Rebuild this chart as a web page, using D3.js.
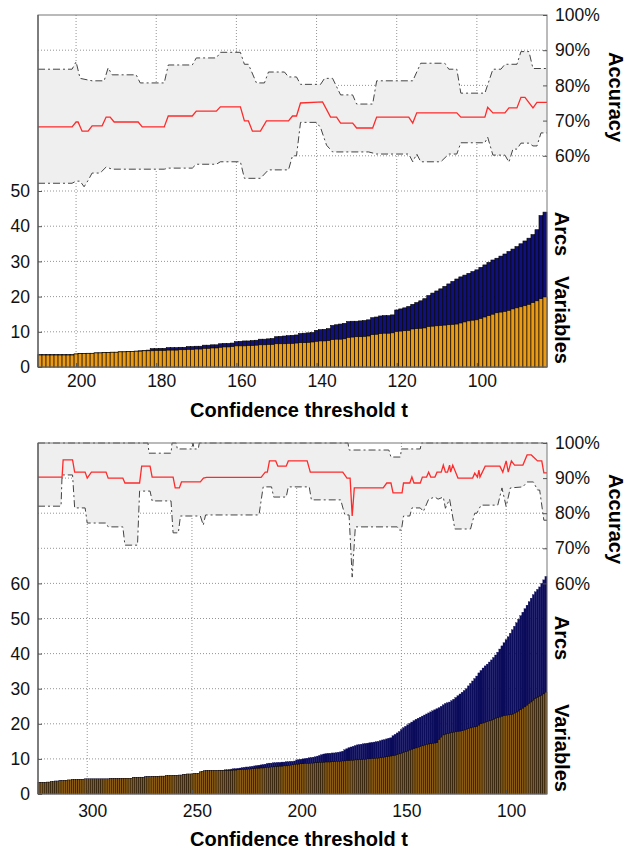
<!DOCTYPE html>
<html lang="en">
<head>
<meta charset="UTF-8">
<title>Confidence threshold</title>
<script src="https://d3js.org/d3.v7.min.js"></script>
<style>
  body { margin: 0; background: #fff; }
  text { font-family: "Liberation Sans", Arial, Helvetica, sans-serif; }
  .lbl { font-weight: bold; }
</style>
</head>
<body>
<svg id="chart" width="627" height="850"></svg>
<script>
// ---------- top panel data (thresholds 209 .. 83) ----------
const topFirst = 209, topLast = 83;
const topTicks = [200, 180, 160, 140, 120, 100];

const topVariables = [
  3.4,3.4,3.4,3.4,3.4,3.4,3.4,3.4,3.4,
  3.7,3.8,3.8,3.9,3.9,
  4.0,4.0,4.1,4.1,4.2,4.2,
  4.3,4.3,4.4,4.4,4.5,4.5,4.6,4.6,
  4.6,4.7,4.7,4.7,
  4.8,4.8,4.8,4.9,4.9,
  5.0,5.0,5.1,5.1,
  5.3,5.3,5.4,5.4,
  5.6,5.7,5.7,5.8,
  6.0,6.0,6.0,6.1,6.1,6.2,
  6.3,6.3,6.4,6.4,
  6.6,6.6,6.6,6.7,6.7,6.8,
  6.9,6.9,7.0,7.1,
  7.3,7.4,7.4,7.5,
  7.8,7.9,7.9,8.0,
  8.4,8.5,8.6,8.6,8.7,8.8,
  9.2,9.3,
  9.5,9.6,9.6,9.7,
  10.1,10.2,10.3,10.4,
  10.8,10.9,11.0,11.1,
  11.5,11.6,11.7,11.8,
  11.9,12.0,12.1,12.2,
  12.5,12.8,13.1,13.3,13.4,
  13.8,14.2,14.6,15.0,
  15.4,15.6,15.8,16.1,
  16.5,16.8,17.1,17.4,
  17.8,18.3,18.8,
  19.4,19.9
];
const topArcs = [
  3.5,3.5,3.5,3.5,3.5,3.5,3.5,3.5,3.5,
  3.7,3.8,3.8,3.9,3.9,
  4.0,4.0,4.1,4.1,4.2,4.2,
  4.3,4.3,4.4,4.4,4.5,4.6,4.7,4.8,
  5.2,5.2,5.3,5.3,
  5.5,5.5,5.5,5.6,5.6,
  5.8,5.8,5.9,5.9,
  6.2,6.2,6.3,6.3,
  6.6,6.7,6.7,6.8,
  7.2,7.3,7.4,7.4,7.5,7.6,
  7.9,7.9,8.0,8.1,
  8.6,8.7,8.8,8.9,9.0,9.1,
  9.5,9.6,9.7,9.8,
  10.4,10.6,10.7,10.9,
  11.8,12.0,12.2,12.4,
  12.9,13.0,13.0,13.1,13.2,13.4,
  14.0,14.2,
  14.5,14.6,14.6,14.8,
  16.2,16.5,16.8,17.2,
  17.8,18.3,18.8,19.4,
  20.3,21.0,21.6,22.2,
  22.9,23.6,24.3,25.0,
  25.6,26.1,26.6,27.1,27.6,
  28.3,29.0,29.7,30.4,
  30.9,31.5,32.1,32.8,
  33.5,34.2,35.0,35.8,
  36.6,37.6,39.0,
  43.0,44.0
];
// accuracy lines, [threshold, percent]
const topMean = [
  [209.5,68.2],[201,68.2],[200,69.6],[199.5,69.6],[198.5,67],[197,67],[196,68.5],[193.5,68.5],
  [192.5,71],[191.5,71],[190.5,69.6],[184.5,69.6],[183.5,68.2],[178,68.2],[177,71.3],[171,71.3],
  [170,72.7],[165,72.7],[164,73.9],[159,73.9],[158,69.9],[157,69.9],[156,67],[154,67],
  [152.5,69.9],[147,69.9],[146,71.3],[145,71.3],[144,75],[138.5,75.3],[136.5,71],[135,71],
  [134,69.3],[131,69.3],[130,67.9],[126,67.9],[125,71],[117,71],[116,69.3],[115,72.2],
  [105,72.2],[104,71],[98,71],[97.3,73.8],[96,72.2],[93,72.2],[92,73.6],[90,73.6],
  [89,76.6],[88,76.6],[86,73.6],[85,75.2],[82.5,75.2]
];
const topUpper = [
  [209.5,84.6],[201,84.6],[200,86.7],[199,82],[196,81.3],[193,81.3],[192,85],[191,83],
  [185,83],[184,80.7],[178,80.7],[177,85.8],[171,85.8],[170,87.8],[165,87.8],[164,89.4],
  [159,89.4],[158,86],[157,86],[155,80.7],[153,80.7],[152,83.8],[148,83.8],[147,82.4],
  [145,82.4],[144,80.3],[139,80.3],[138,82],[136,82],[134,77.3],[131,77.3],[130,74.7],
  [126,74.7],[125,81.3],[116,81.3],[114,86.3],[108,86.3],[107,84.6],[105,84.6],[104,77.8],
  [98,77.8],[96,84.6],[94,84.6],[93,86],[90,86],[89,89.6],[87,89.6],[86,84.8],[82.5,84.8]
];
const topLower = [
  [209.5,52.2],[201,52.2],[200,52.8],[199,52.8],[198,51.2],[197,53],[196,55.1],[194,55.1],
  [192.5,56.8],[191,56.2],[178,56.2],[177,56.5],[171,56.5],[170,57.6],[165,57.6],[164,58.3],
  [159,58.3],[158,53.6],[154,53.6],[152,56],[147,56],[146,60],[145,60],[144,69.5],
  [140,69.5],[139,68],[137.5,63],[136,61.1],[127,61.1],[125,60.5],[117,60.5],[116,58.3],
  [115,60.5],[114,58.3],[109,58.3],[107,60.5],[105,60.5],[104,63.7],[98,63.7],[97.3,65.3],
  [96,60.2],[93,60.2],[92,58.2],[91,61.9],[90,61.9],[89,63.6],[87,63.6],[86,62.8],
  [85,62.8],[84,66.5],[82.5,66.5]
];

// ---------- bottom panel data (thresholds 323 .. 81) ----------
const botFirst = 323, botLast = 81;
const botTicks = [300, 250, 200, 150, 100];

const botVariables = [
  3.3,3.3,3.3,3.3,3.4,3.4,3.5,3.5,
  3.7,3.7,3.8,3.8,3.9,3.9,4.0,4.0,4.1,4.1,4.1,4.2,4.2,4.2,
  4.3,4.3,4.3,4.3,4.3,4.3,4.3,4.3,4.3,4.3,4.3,4.3,4.4,4.4,4.4,4.4,4.4,4.4,4.5,4.5,4.5,4.5,4.5,
  4.7,4.7,4.7,4.8,4.8,4.8,4.9,4.9,4.9,5.0,5.0,5.0,5.0,5.1,5.1,5.1,5.2,5.2,5.2,5.3,5.3,5.3,5.4,5.4,
  5.6,5.6,5.7,5.7,5.7,5.8,5.8,5.9,
  6.3,6.5,6.6,
  6.7,6.7,6.7,6.7,6.7,6.7,6.7,6.7,6.7,6.7,6.7,6.7,6.7,
  6.8,6.8,6.9,6.9,7.0,7.0,7.0,7.1,7.1,7.2,7.2,7.3,7.3,7.4,7.4,7.5,
  7.6,7.6,7.7,7.7,7.8,7.8,7.9,7.9,8.0,8.0,8.1,8.2,8.3,8.4,
  8.5,8.5,8.6,8.6,8.7,8.7,8.7,8.8,8.8,8.9,8.9,9.0,9.0,9.0,9.1,9.1,9.1,9.2,9.2,9.3,9.3,9.3,9.4,
  9.4,9.5,9.5,9.6,9.6,9.7,9.7,9.8,9.8,9.9,9.9,10.0,10.0,10.1,10.1,10.2,10.2,10.3,10.4,10.5,10.6,10.7,10.8,10.9,11.0,11.2,11.4,
  11.6,11.8,12.0,12.2,12.5,12.7,12.9,13.1,13.3,13.5,13.7,13.9,14.1,14.2,14.3,14.4,14.5,14.6,
  15.5,16.2,16.8,17.0,17.2,17.3,
  17.5,17.6,17.7,17.8,17.9,18.0,18.2,18.4,18.6,18.8,19.0,19.1,19.2,
  19.6,20.0,20.2,20.4,20.6,20.8,21.0,21.2,
  21.5,21.7,21.9,22.1,22.3,22.4,22.5,22.6,22.7,
  23.0,23.3,23.6,24.0,24.4,24.8,25.3,25.8,26.2,26.7,
  27.2,27.5,27.8,28.1,28.5,29.0
];
const botArcs = [
  3.3,3.3,3.3,3.3,3.4,3.4,3.5,3.5,
  3.7,3.7,3.8,3.8,3.9,3.9,4.0,4.0,4.1,4.1,4.1,4.2,4.2,4.2,
  4.3,4.3,4.3,4.3,4.3,4.3,4.3,4.3,4.3,4.3,4.3,4.3,4.4,4.4,4.4,4.4,4.4,4.4,4.5,4.5,4.5,4.5,4.5,
  4.7,4.7,4.7,4.8,4.8,4.8,4.9,4.9,4.9,5.0,5.0,5.0,5.0,5.1,5.1,5.1,5.2,5.2,5.2,5.3,5.3,5.3,5.4,5.4,
  5.6,5.6,5.7,5.7,5.7,5.8,5.8,5.9,
  6.3,6.5,6.6,
  6.7,6.7,6.7,6.7,6.7,6.7,6.8,6.8,6.8,6.9,6.9,7.0,7.1,
  7.2,7.2,7.3,7.4,7.5,7.6,7.7,7.7,7.8,7.9,8.0,8.1,8.2,8.3,8.4,8.5,
  8.7,8.8,8.8,8.9,8.9,9.0,9.0,9.1,9.1,9.2,9.2,9.3,9.3,9.4,
  9.7,9.8,9.9,10.0,10.1,10.2,10.3,10.4,10.5,10.6,10.8,11.0,11.2,11.4,11.5,11.6,11.6,11.7,11.7,11.8,11.9,12.0,12.2,
  12.6,12.9,13.2,13.4,13.6,13.8,14.0,14.1,14.2,14.3,14.4,14.5,14.6,14.7,14.8,14.9,15.0,15.2,15.4,15.5,15.7,15.9,16.0,16.6,17.0,17.4,17.8,
  18.4,18.9,19.3,19.7,20.1,20.5,20.9,21.3,21.6,21.9,22.2,22.5,22.8,23.1,23.4,23.7,24.0,24.3,
  24.6,25.0,25.4,25.8,26.0,26.2,
  26.6,27.0,27.5,28.0,28.5,29.0,29.5,30.0,30.8,31.5,32.2,32.9,33.6,
  34.5,35.2,35.9,36.5,37.0,37.6,38.2,38.9,
  39.6,40.4,41.3,42.2,43.1,44.0,44.8,45.8,46.8,
  47.8,48.8,49.8,50.8,51.8,52.8,53.8,54.8,55.8,56.8,
  57.6,58.3,59.0,60.0,61.0,62.0
];
const botMean = [
  [323.5,90.3],[312,90.3],[311.5,95.2],[307,95.2],[306,91.7],[301,91.7],[300,90],[298,91.7],
  [291,91.7],[290,90],[283,90],[282,88.6],[275,88.6],[274,93.4],[270,93.4],[269,90.3],
  [259,90.3],[258,87.2],[256,87.2],[255,88.9],[246,88.9],[244.5,90],[243,90.2],[217,90.2],
  [215,91.7],[214,91.7],[213,94.9],[210,94.9],[209,93.4],[205,93.4],[204,94.9],[195,94.9],
  [193.5,91.7],[178,91.7],[176,90],[174.5,90],[173.5,79.2],[172.5,87.2],[158.7,87.2],[157,88.6],
  [155,88.6],[154,85.8],[149.7,85.8],[149,88.6],[146,88.6],[145,90.3],[144,88.6],[141,88.6],
  [140,90.3],[138,90.3],[137,91.7],[136,90.3],[134,90.3],[133,91.7],[131,91.7],[130,93.7],
  [129,91.7],[128,91.7],[127,93.7],[126.5,91.7],[125.5,93.7],[123,90],[116,90],[115,91.4],
  [113.7,90.3],[113,92.3],[112.5,90.3],[110,93.4],[103,93.4],[101.6,91.7],[100,94.9],[99,91.7],
  [97.5,94.9],[96,93.7],[92,93.7],[90,96.6],[88,96.6],[85,94.9],[83,94.9],[82,91.5],[80.5,91.5]
];
const botUpper = [
  [323.5,100],[271,100],[270.5,97.1],[260,97.1],[259.5,100],[257.5,100],[257,98.3],[250,98.3],
  [249.5,100],[249,98.3],[247,98.3],[246.5,100],[175.5,100],[175,98],[156,98],[155,96],
  [150.5,96],[150,98.3],[141,98.3],[140.5,100],[80.5,100]
];
const botLower = [
  [323.5,82],[312.5,82],[312,90.9],[307,90.9],[306,81.5],[301,81.5],[300,77.2],[291,77.2],
  [290,76.1],[283,76.1],[282,70.9],[276,70.9],[275,86.3],[270,86.3],[269,83.5],[260,83.5],
  [259,74.4],[256.5,74.4],[255.5,79.2],[246,79.2],[244.6,76.6],[243.5,79.5],[218,79.5],[216,87.5],
  [212,87.5],[211,84.6],[205,84.6],[204,87.5],[194,87.5],[193,83.8],[179,83.8],[177,79.5],
  [175,79.5],[173.5,61.8],[172,76.1],[152,76.1],[151,75.2],[150,75.2],[149,79.2],[146,79.2],
  [145,81.5],[141,81.5],[139.5,80.5],[137,84],[134,84.6],[132.5,84],[130,84.6],[129,81.4],
  [127,84],[124.5,75.5],[117,75.5],[115,80],[114,80],[112,82.3],[104,82.3],[102,87.2],
  [100,81.9],[98,87.2],[92,87.5],[90,88.9],[87,88.9],[85,86.6],[84,86.6],[82,78],[80.5,78]
];

const accTicks = [60, 70, 80, 90, 100];
const gridY = [10, 20, 30, 40, 50, 60, 70, 80, 90];

const svg = d3.select("#chart");
svg.append("rect").attr("width", 627).attr("height", 850).attr("fill", "#fff");

const left = 38, right = 547;

function drawPanel(cfg) {
  const g = svg.append("g");
  const x = d3.scaleLinear().domain([cfg.first + 0.5, cfg.last - 0.5]).range([left, right]);
  const y = d3.scaleLinear().domain([0, 100]).range([cfg.bottom, cfg.top]);
  const ts = d3.range(cfg.first, cfg.last - 1, -1);
  const bw = Math.abs(x(0) - x(1));

  // grid
  g.selectAll(".gy").data(gridY).join("line")
    .attr("x1", left).attr("x2", right)
    .attr("y1", d => y(d)).attr("y2", d => y(d))
    .attr("stroke", "#888").attr("stroke-width", 0.9).attr("stroke-dasharray", "1,2");
  g.selectAll(".gx").data(cfg.ticks).join("line")
    .attr("x1", d => x(d)).attr("x2", d => x(d))
    .attr("y1", cfg.top).attr("y2", cfg.bottom)
    .attr("stroke", "#888").attr("stroke-width", 0.9).attr("stroke-dasharray", "1,2");

  // accuracy band
  const line = d3.line().x(d => x(d[0])).y(d => y(d[1]));
  g.append("path")
    .attr("d", line(cfg.upper.concat(cfg.lower.slice().reverse())) + "Z")
    .attr("fill", "#efefef");

  // bars: arcs behind, variables in front
  const arcBars = g.selectAll(".arc").data(ts).join("rect")
    .attr("x", d => x(d) - bw / 2).attr("width", bw)
    .attr("y", (d, i) => y(cfg.arcs[i]))
    .attr("height", (d, i) => y(0) - y(cfg.arcs[i]))
    .attr("fill", cfg.navy);
  if (cfg.navyStroke) arcBars.attr("stroke", "#000").attr("stroke-width", cfg.barStroke);
  else arcBars.attr("stroke", cfg.navy).attr("stroke-width", 0.3);
  g.selectAll(".var").data(ts).join("rect")
    .attr("x", d => x(d) - bw / 2).attr("width", bw)
    .attr("y", (d, i) => y(cfg.vars[i]))
    .attr("height", (d, i) => y(0) - y(cfg.vars[i]))
    .attr("fill", cfg.orange).attr("stroke", "#000").attr("stroke-width", cfg.barStroke);

  // accuracy lines
  [cfg.upper, cfg.lower].forEach(pts => {
    g.append("path").attr("d", line(pts)).attr("fill", "none")
      .attr("stroke", "#444").attr("stroke-width", 1)
      .attr("stroke-dasharray", "7,3,2,3");
  });
  g.append("path").attr("d", line(cfg.mean)).attr("fill", "none")
    .attr("stroke", "#ff2a2a").attr("stroke-width", 1.3);

  // frame
  g.append("rect").attr("x", left).attr("y", cfg.top)
    .attr("width", right - left).attr("height", cfg.bottom - cfg.top)
    .attr("fill", "none").attr("stroke", "#777").attr("stroke-width", 1);
  g.append("line").attr("x1", left).attr("x2", left).attr("y1", cfg.top).attr("y2", cfg.bottom)
    .attr("stroke", "#555").attr("stroke-width", 1.2);

  // left axis
  const ly = d3.axisLeft(y).tickValues(cfg.countTicks).tickSize(-4).tickPadding(8);
  const la = g.append("g").attr("transform", `translate(${left},0)`).call(ly);
  // right axis
  const ry = d3.axisRight(y).tickValues(accTicks).tickSize(-4).tickPadding(8).tickFormat(d => d + "%");
  const ra = g.append("g").attr("transform", `translate(${right},0)`).call(ry);
  // bottom axis
  const bx = d3.axisBottom(x).tickValues(cfg.ticks).tickSize(-4).tickPadding(cfg.xPad);
  const ba = g.append("g").attr("transform", `translate(0,${cfg.bottom})`).call(bx);
  [la, ra, ba].forEach(a => {
    a.select(".domain").remove();
    a.selectAll(".tick line").attr("stroke", "#555");
    a.selectAll("text").attr("font-size", 17.5).attr("fill", "#111")
      .attr("font-family", "'Liberation Sans', Arial, sans-serif");
  });
  ba.selectAll("text").attr("dx", 5);

  // titles
  g.append("text").attr("class", "lbl")
    .attr("x", 299).attr("y", cfg.xLabelY)
    .attr("text-anchor", "middle").attr("font-size", 20)
    .text("Confidence threshold t");
  const side = [["Accuracy", 616, cfg.accY], ["Arcs", 562, cfg.arcsY], ["Variables", 562, cfg.varsY]];
  g.selectAll(".side").data(side).join("text").attr("class", "lbl")
    .attr("transform", d => `translate(${d[1]},${d[2]}) rotate(90)`)
    .attr("text-anchor", "middle").attr("dy", "0.35em").attr("font-size", 20)
    .text(d => d[0]);
}

drawPanel({
  first: topFirst, last: topLast, ticks: topTicks, top: 15, bottom: 367,
  vars: topVariables, arcs: topArcs, mean: topMean, upper: topUpper, lower: topLower,
  countTicks: [0, 10, 20, 30, 40, 50], xPad: 8, xLabelY: 417, barStroke: 0.6,
  navy: "#10107c", orange: "#eb9a14", navyStroke: true,
  accY: 97, arcsY: 234, varsY: 320
});
drawPanel({
  first: botFirst, last: botLast, ticks: botTicks, top: 443, bottom: 794,
  vars: botVariables, arcs: botArcs, mean: botMean, upper: botUpper, lower: botLower,
  countTicks: [0, 10, 20, 30, 40, 50, 60], xPad: 11, xLabelY: 846, barStroke: 0.35,
  navy: "#0c0c5c", orange: "#8a5c14", navyStroke: false,
  accY: 519, arcsY: 638, varsY: 748
});
</script>
</body>
</html>
